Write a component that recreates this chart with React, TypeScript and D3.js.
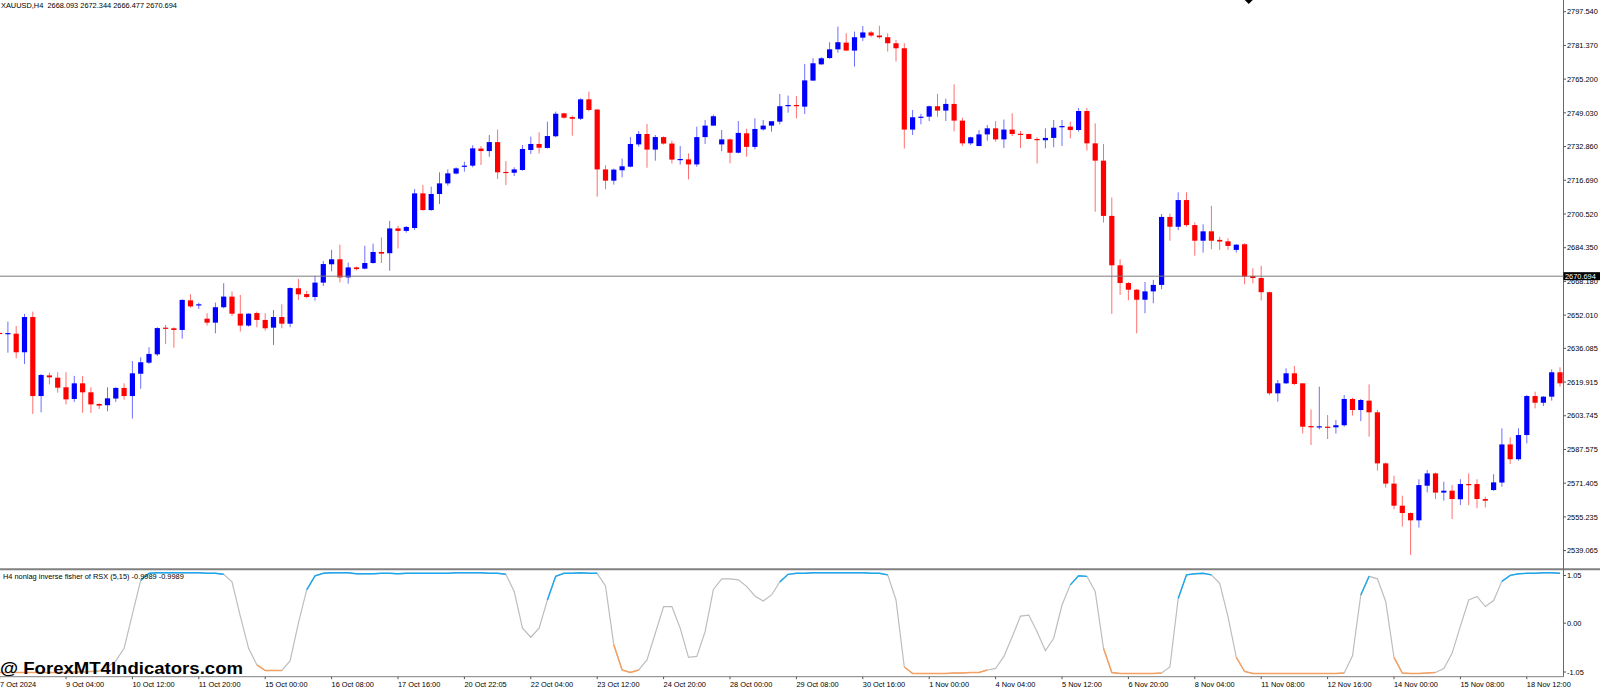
import React from "react";
import * as d3 from "d3";

// ---------- DATA ----------
const opens = [2643.5,2643.1,2643.1,2634.2,2651.1,2613.2,2623.1,2622.0,2617.4,2611.8,2619.3,2615.0,2609.4,2608.8,2612.0,2617.1,2613.2,2623.9,2629.2,2633.2,2646.0,2645.7,2644.9,2659.1,2656.7,2650.3,2648.4,2655.8,2660.9,2652.7,2647.0,2653.0,2649.7,2646.0,2651.1,2647.9,2664.9,2662.1,2660.7,2667.6,2676.4,2678.8,2670.1,2674.9,2674.3,2677.0,2682.3,2681.7,2693.6,2692.4,2693.8,2710.4,2702.4,2710.1,2715.2,2719.9,2723.2,2723.7,2731.9,2730.7,2735.0,2720.7,2720.3,2721.6,2731.2,2734.1,2732.2,2737.8,2748.8,2747.0,2746.2,2755.5,2750.6,2721.9,2716.5,2721.5,2723.2,2733.9,2738.9,2731.4,2737.4,2734.3,2726.4,2726.7,2724.3,2737.4,2742.9,2733.9,2736.3,2729.9,2739.2,2732.7,2741.1,2742.9,2744.8,2752.2,2752.8,2752.0,2764.5,2772.3,2775.3,2779.5,2782.7,2778.9,2785.1,2787.6,2786.1,2785.3,2782.4,2780.0,2741.0,2746.7,2747.2,2752.2,2750.1,2753.3,2745.3,2734.4,2733.1,2738.7,2741.6,2736.3,2741.0,2739.0,2738.9,2736.5,2735.9,2737.0,2742.1,2742.4,2740.8,2749.9,2734.4,2726.1,2699.6,2675.9,2667.4,2664.2,2659.4,2663.4,2666.5,2699.1,2694.4,2707.2,2695.2,2687.7,2692.2,2688.1,2687.4,2683.3,2686.0,2670.8,2669.8,2663.0,2614.5,2619.3,2624.1,2619.3,2598.8,2598.2,2598.5,2598.2,2599.2,2611.8,2606.5,2611.0,2605.4,2580.9,2571.2,2560.6,2557.1,2553.6,2570.2,2576.1,2566.9,2567.8,2563.7,2571.0,2571.0,2563.8,2568.1,2571.7,2590.0,2582.9,2594.5,2613.2,2610.0,2612.9,2624.6];
const highs = [2643.6,2648.9,2646.8,2652.6,2653.7,2623.8,2624.4,2624.6,2624.6,2622.8,2622.8,2617.4,2609.7,2617.4,2617.4,2619.3,2630.0,2631.8,2636.6,2646.2,2647.3,2646.2,2659.6,2662.0,2658.0,2652.9,2658.0,2667.3,2663.4,2661.7,2652.9,2653.7,2652.9,2654.5,2657.2,2665.3,2669.3,2663.7,2670.9,2678.0,2683.3,2685.8,2677.2,2675.3,2685.3,2686.3,2689.3,2697.2,2694.8,2694.8,2712.5,2714.4,2713.6,2720.5,2721.9,2722.9,2725.6,2733.5,2733.1,2738.4,2741.0,2725.9,2722.9,2733.6,2737.6,2739.7,2744.8,2749.6,2749.1,2747.7,2756.0,2759.2,2750.9,2723.9,2722.3,2727.1,2737.4,2740.3,2743.7,2738.4,2737.8,2735.7,2733.1,2729.6,2742.4,2745.6,2748.2,2740.8,2736.8,2745.1,2741.4,2746.4,2745.6,2745.1,2758.1,2757.3,2757.1,2772.5,2775.2,2775.7,2782.9,2790.4,2787.2,2788.0,2790.7,2788.3,2790.8,2787.2,2784.0,2782.4,2750.4,2748.6,2752.5,2758.1,2755.8,2762.7,2746.7,2737.6,2740.8,2743.2,2745.1,2745.8,2748.8,2740.3,2739.0,2737.3,2741.6,2745.6,2745.6,2744.8,2751.4,2751.4,2744.0,2734.1,2708.4,2678.8,2667.9,2664.6,2667.9,2668.9,2700.5,2700.7,2710.9,2710.9,2696.5,2695.6,2704.4,2689.6,2688.9,2686.1,2686.5,2674.5,2675.7,2663.3,2620.9,2626.5,2627.6,2619.3,2606.8,2617.7,2604.1,2601.7,2613.7,2612.4,2611.8,2618.8,2606.5,2581.4,2575.0,2565.4,2557.4,2573.3,2577.7,2576.5,2572.1,2570.5,2573.3,2576.1,2573.3,2564.9,2575.7,2597.7,2593.4,2597.7,2613.7,2615.3,2613.2,2626.0,2627.0];
const lows = [2643.0,2634.0,2631.3,2628.6,2604.6,2605.4,2618.8,2614.8,2609.2,2610.4,2605.2,2605.1,2607.0,2605.9,2610.4,2611.5,2602.4,2616.7,2628.6,2632.4,2638.2,2636.4,2640.7,2655.6,2655.0,2647.0,2643.3,2655.3,2651.6,2644.1,2646.5,2646.2,2644.6,2637.7,2645.7,2646.2,2659.3,2660.1,2658.9,2666.0,2673.0,2667.7,2667.1,2673.5,2674.0,2676.7,2677.0,2673.3,2684.0,2691.6,2692.8,2702.1,2702.1,2705.3,2714.1,2719.5,2720.8,2722.9,2724.0,2728.0,2717.3,2714.4,2718.7,2721.3,2729.3,2729.5,2731.9,2737.3,2746.2,2738.1,2745.6,2749.8,2708.8,2712.4,2714.6,2718.1,2722.9,2732.8,2722.7,2726.1,2733.8,2724.7,2724.2,2717.1,2723.2,2734.1,2742.7,2730.6,2724.8,2729.6,2728.0,2731.5,2740.5,2740.0,2743.5,2749.1,2746.4,2748.5,2764.3,2772.0,2775.0,2777.9,2778.7,2771.2,2783.5,2785.3,2784.6,2778.4,2773.6,2731.9,2738.4,2743.5,2745.1,2747.2,2745.1,2740.2,2733.1,2733.6,2733.1,2735.7,2735.2,2732.2,2737.9,2732.2,2736.3,2724.8,2732.0,2732.5,2733.1,2736.8,2740.0,2730.9,2701.6,2696.4,2652.6,2661.7,2659.1,2643.3,2652.9,2657.7,2664.4,2687.7,2692.8,2694.4,2680.5,2682.0,2683.6,2683.3,2683.3,2682.0,2666.8,2667.3,2659.1,2613.6,2610.5,2619.0,2618.5,2595.3,2589.7,2597.2,2592.6,2595.2,2598.5,2603.8,2601.2,2593.7,2577.4,2569.3,2558.9,2550.6,2537.0,2550.1,2567.0,2563.8,2563.0,2554.2,2560.9,2560.9,2559.4,2559.8,2567.8,2569.7,2580.6,2582.2,2590.5,2607.3,2608.4,2611.0,2617.7];
const closes = [2643.2,2643.4,2634.2,2651.1,2613.2,2623.3,2622.2,2617.2,2611.6,2619.3,2615.0,2609.2,2608.6,2612.1,2617.1,2613.2,2624.1,2629.4,2633.4,2645.8,2645.5,2644.9,2659.3,2656.2,2657.2,2648.4,2655.8,2660.9,2652.7,2647.0,2652.7,2649.7,2645.7,2651.1,2647.9,2665.0,2662.0,2660.7,2667.6,2676.5,2678.8,2670.1,2674.9,2674.1,2677.0,2682.3,2681.5,2693.6,2692.4,2694.3,2710.4,2702.4,2710.1,2715.2,2720.0,2722.4,2723.7,2732.0,2730.7,2735.0,2720.5,2720.2,2721.9,2731.7,2734.1,2732.3,2737.9,2748.6,2746.7,2746.2,2755.5,2750.4,2721.9,2716.5,2721.8,2723.4,2734.1,2738.9,2731.4,2737.4,2734.3,2726.6,2726.9,2724.3,2737.4,2742.9,2747.4,2736.3,2729.9,2739.4,2732.7,2741.3,2742.9,2745.0,2752.2,2752.8,2752.2,2764.6,2772.8,2775.2,2779.5,2782.9,2778.9,2785.3,2787.6,2786.1,2785.3,2782.4,2780.0,2741.0,2746.9,2747.2,2752.2,2750.1,2753.3,2745.3,2734.4,2737.3,2738.7,2741.6,2736.3,2741.0,2738.9,2738.6,2736.5,2735.9,2737.0,2741.9,2742.7,2740.8,2749.9,2734.4,2726.1,2699.6,2675.9,2667.4,2664.2,2659.4,2663.4,2666.5,2699.1,2694.4,2707.2,2695.2,2687.7,2692.2,2687.7,2687.3,2685.2,2685.8,2670.5,2669.8,2663.0,2614.5,2619.3,2624.1,2619.0,2598.5,2598.2,2598.7,2598.2,2599.2,2611.8,2606.5,2611.3,2605.4,2580.9,2571.2,2560.6,2557.1,2553.6,2570.5,2576.1,2566.9,2567.8,2563.8,2571.0,2570.5,2563.8,2563.0,2571.8,2590.0,2582.9,2594.5,2613.2,2610.0,2612.9,2624.6,2619.3];

const fisher = [-0.98,-0.98,-0.98,-0.98,-0.98,-0.98,-0.98,-0.98,-0.98,-0.97,-0.97,-0.96,-0.95,-0.87,-0.75,-0.5,0.18,0.85,0.99,1.0,1.0,1.0,1.0,1.0,1.0,0.99,0.99,0.97,0.82,0.14,-0.5,-0.83,-0.94,-0.94,-0.94,-0.75,0.0,0.66,0.94,0.99,1.0,1.0,1.0,0.98,0.98,0.98,0.99,0.99,0.98,0.99,0.99,0.99,0.99,0.99,0.99,1.0,1.0,1.0,1.0,0.99,0.99,0.97,0.63,-0.1,-0.28,-0.1,0.46,0.93,0.99,0.99,1.0,0.99,0.99,0.74,-0.43,-0.93,-0.98,-0.93,-0.73,-0.2,0.33,0.33,-0.1,-0.68,-0.66,-0.17,0.67,0.88,0.88,0.86,0.73,0.54,0.44,0.56,0.82,0.97,0.99,0.99,1.0,1.0,1.0,1.0,1.0,1.0,1.0,0.99,0.99,0.96,0.46,-0.87,-1.0,-1.0,-1.0,-1.0,-1.0,-0.99,-0.99,-0.98,-0.98,-0.93,-0.9,-0.66,-0.27,0.14,0.16,-0.17,-0.55,-0.3,0.36,0.76,0.94,0.93,0.63,-0.5,-0.98,-1.0,-1.0,-1.0,-1.0,-1.0,-0.99,-0.87,0.49,0.96,0.98,0.99,0.96,0.79,0.13,-0.68,-0.96,-1.0,-1.0,-1.0,-1.0,-1.0,-1.0,-1.0,-1.0,-1.0,-1.0,-1.0,-0.99,-0.65,0.56,0.93,0.88,0.43,-0.68,-0.99,-1.0,-1.0,-0.99,-0.98,-0.9,-0.6,-0.06,0.46,0.53,0.33,0.45,0.83,0.95,0.98,0.99,0.99,1.0,1.0,0.99];

const timeLabels = ["7 Oct 2024","9 Oct 04:00","10 Oct 12:00","11 Oct 20:00","15 Oct 00:00","16 Oct 08:00","17 Oct 16:00","20 Oct 22:05","22 Oct 04:00","23 Oct 12:00","24 Oct 20:00","28 Oct 00:00","29 Oct 08:00","30 Oct 16:00","1 Nov 00:00","4 Nov 04:00","5 Nov 12:00","6 Nov 20:00","8 Nov 04:00","11 Nov 08:00","12 Nov 16:00","14 Nov 00:00","15 Nov 08:00","18 Nov 12:00"];
const priceTicks = ["2797.540","2781.370","2765.200","2749.030","2732.860","2716.690","2700.520","2684.350","2668.180","2652.010","2636.085","2619.915","2603.745","2587.575","2571.405","2555.235","2539.065"];
const indTicks = ["1.05","0.00","-1.05"];
const bidPrice = 2670.694;
const titleText = "XAUUSD,H4  2668.093 2672.344 2666.477 2670.694";
const indTitle = "H4 nonlag inverse fisher of RSX (5,15) -0.9989 -0.9989";
const watermark = "@ ForexMT4Indicators.com";
const markerBar = 150.5;

// ---------- LAYOUT ----------
const W = 1600, H = 688;
const AXIS_X = 1563.5;
const MAIN_BOTTOM = 568;
const IND_TOP = 570.5, IND_BOTTOM = 676.7;
const LABEL_EVERY = 8;
const THRESH = 0.92;
const FONT = "'Liberation Sans', Arial, sans-serif";

export default function App() {
  const n = closes.length;
  const x = d3.scaleLinear().domain([0, n - 1]).range([-0.4, 1560.0]);
  const y = d3.scaleLinear().domain([2530.73, 2803.15]).range([MAIN_BOTTOM, 0]);
  const yi = d3.scaleLinear().domain([-1, 1]).range([673.5, 572.8]);
  const bodyW = 5.2;

  const idx = d3.range(n);
  const line = d3.line<number>().x((i) => x(i)).y((i) => yi(fisher[i]));

  const runs: { color: string; pts: number[] }[] = [];
  let cur: { color: string; pts: number[] } | null = null;
  for (let i = 1; i < n; i++) {
    const c = fisher[i] > THRESH ? "#1aa7ee" : fisher[i] < -THRESH ? "#f5a060" : null;
    if (c) {
      if (cur && cur.color === c && cur.pts[cur.pts.length - 1] === i - 1) cur.pts.push(i);
      else { cur = { color: c, pts: [i - 1, i] }; runs.push(cur); }
    } else cur = null;
  }
  const mx = x(markerBar);

  return (
    <svg width={W} height={H} style={{ position: "absolute", left: 0, top: 0, background: "#fff", display: "block" }} fontFamily={FONT}>
      <defs>
        <clipPath id="clipMain"><rect x={0} y={0} width={AXIS_X} height={MAIN_BOTTOM} /></clipPath>
        <clipPath id="clipInd"><rect x={0} y={IND_TOP} width={AXIS_X} height={IND_BOTTOM - IND_TOP} /></clipPath>
      </defs>
      <rect x={0} y={0} width={W} height={H} fill="#fff" />

      <text x={1} y={8} fontSize={7.4} fill="#000" style={{ whiteSpace: "pre" }}>{titleText}</text>

      <g clipPath="url(#clipMain)">
        {idx.map((i) => {
          const up = closes[i] > opens[i];
          const cx = x(i);
          const top = y(Math.max(opens[i], closes[i]));
          const bot = y(Math.min(opens[i], closes[i]));
          return (
            <g key={i}>
              <line x1={cx} x2={cx} y1={y(highs[i])} y2={y(lows[i])} stroke={up ? "#6f6fff" : "#ff6f6f"} strokeWidth={1} />
              <rect x={cx - bodyW / 2} y={top} width={bodyW} height={Math.max(1.2, bot - top)} fill={up ? "#0000ff" : "#ff0000"} />
            </g>
          );
        })}
        <line x1={0} x2={AXIS_X} y1={y(bidPrice)} y2={y(bidPrice)} stroke="#7a7a7a" strokeWidth={1} />
      </g>

      <path d={`M${mx - 4},0 L${mx + 4},0 L${mx},4 Z`} fill="#000" />

      <line x1={0} x2={W} y1={569.3} y2={569.3} stroke="#808080" strokeWidth={2} />

      <g clipPath="url(#clipInd)">
        <path d={line(idx) || ""} fill="none" stroke="#bdbdbd" strokeWidth={1.2} />
        {runs.map((r, k) => (
          <path key={k} d={line(r.pts) || ""} fill="none" stroke={r.color} strokeWidth={1.4} />
        ))}
      </g>
      <text x={3} y={579} fontSize={7.4} fill="#000">{indTitle}</text>

      <text x={0} y={673.5} fontSize={17} fontWeight="bold" fill="#000" textLength={243} lengthAdjust="spacingAndGlyphs" fontFamily="Arial, 'Liberation Sans', sans-serif">{watermark}</text>

      <line x1={0} x2={AXIS_X} y1={IND_BOTTOM} y2={IND_BOTTOM} stroke="#808080" strokeWidth={1} />
      {timeLabels.map((t, k) => {
        const tx = x(k * LABEL_EVERY);
        return (
          <g key={t}>
            <line x1={tx} x2={tx} y1={IND_BOTTOM} y2={IND_BOTTOM + 2.5} stroke="#555" strokeWidth={1} />
            <text x={Math.max(0, tx)} y={686.5} fontSize={7.4} fill="#000">{t}</text>
          </g>
        );
      })}

      <line x1={AXIS_X} x2={AXIS_X} y1={0} y2={IND_BOTTOM} stroke="#6a6a6a" strokeWidth={1} />
      {priceTicks.map((t) => {
        const ty = y(parseFloat(t));
        return (
          <g key={t}>
            <line x1={AXIS_X} x2={AXIS_X + 2.5} y1={ty} y2={ty} stroke="#555" strokeWidth={1} />
            <text x={1567} y={ty + 2.7} fontSize={7.4} fill="#000">{t}</text>
          </g>
        );
      })}
      {indTicks.map((t) => {
        const ty = Math.min(672, Math.max(575.5, yi(parseFloat(t))));
        return (
          <g key={t}>
            <line x1={AXIS_X} x2={AXIS_X + 2.5} y1={ty} y2={ty} stroke="#555" strokeWidth={1} />
            <text x={1567} y={ty + 2.7} fontSize={7.4} fill="#000">{t}</text>
          </g>
        );
      })}
      <rect x={AXIS_X} y={y(bidPrice) - 4} width={W - AXIS_X} height={8} fill="#000" />
      <text x={1565} y={y(bidPrice) + 2.7} fontSize={7.4} fill="#fff">{bidPrice.toFixed(3)}</text>
    </svg>
  );
}
